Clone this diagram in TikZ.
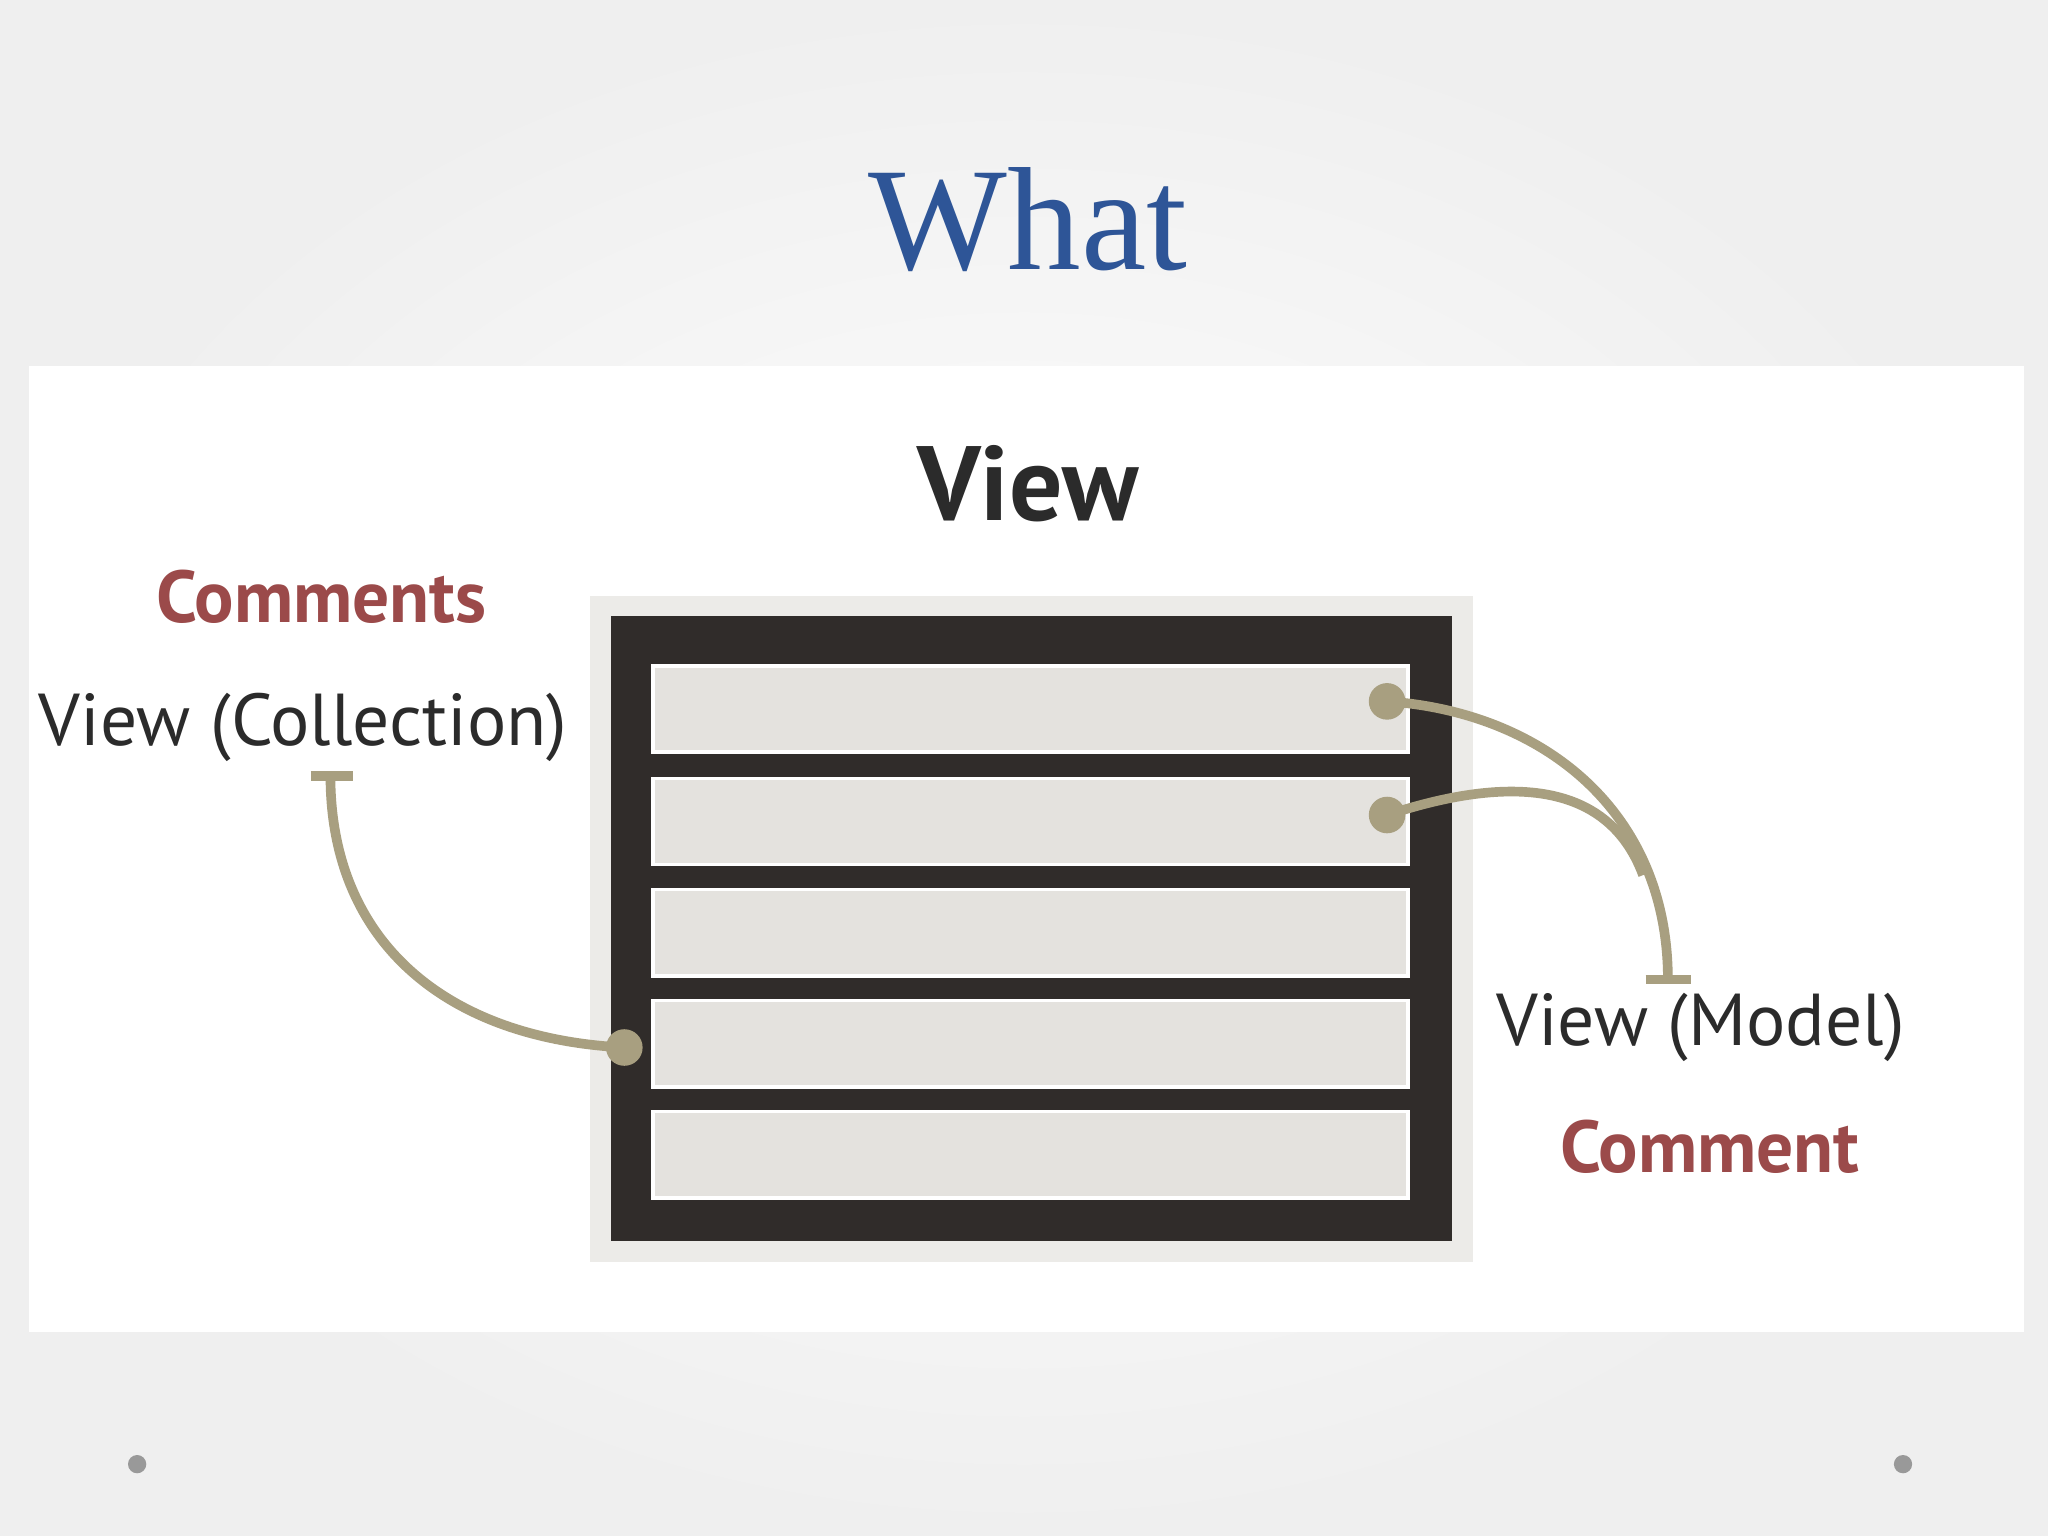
\documentclass[tikz,border=0pt]{standalone}
\usepackage{fontspec}
\setmainfont{Liberation Serif}
\newfontfamily\myss{PT Sans}
\begin{document}
\begin{tikzpicture}[x=0.01cm,y=-0.01cm,
  conn/.style={draw=tanc,line width=2.1pt},
  dot/.style={circle,fill=tanc,inner sep=0pt,minimum size=0.28cm},
  row/.style={draw=white,line width=0.8pt,fill=rowc},
  lbl/.style={font=\myss\fontsize{16}{19}\selectfont,text=darkt},
  red/.style={font=\myss\bfseries\fontsize{16}{19}\selectfont,text=redt}]
\definecolor{tanc}{HTML}{A89F80}
\definecolor{rowc}{HTML}{E4E2DE}
\definecolor{darkt}{HTML}{2B2B2B}
\definecolor{redt}{HTML}{9B4A4A}
\definecolor{boxc}{HTML}{302C2A}
\definecolor{bg}{HTML}{EFEFEF}
\useasboundingbox (0,0) rectangle (1568,1176);
\shade[inner color=white,outer color=bg] (0,0) rectangle (1568,1176);
\fill[white] (22,280) rectangle (1550,1020);
\node[font=\fontsize{32}{36}\selectfont,text={rgb,255:red,46;green,85;blue,151}] (title) at (787,168) {What};
\node[font=\myss\bfseries\fontsize{23}{28}\selectfont,text=darkt] (view) at (787,370) {View};
\fill[rowc!70] (452,456) rectangle (1128,966);
\fill[boxc] (468,472) rectangle (1112,950);
\foreach \y/\n in {510/r1,596/r2,681/r3,766/r4,851/r5}
  \draw[row] (500,\y) rectangle (1078,\y+66);
\node[red] (comments) at (246,457) {Comments};
\node[lbl] (vcoll) at (232,557) {View (Collection)};
\node[lbl] (vmodel) at (1302,787) {View (Model)};
\node[red] (comment) at (1309,878) {Comment};
\coordinate (tl) at (253,594);
\coordinate (tr) at (1277,750);
\draw[conn] (238,594) -- (270,594);
\draw[conn] (1260,750) -- (1295,750);
\node[dot] (d1) at (1062,537) {};
\node[dot] (d2) at (1062,624) {};
\node[dot] (d3) at (478,802) {};
\draw[conn] (d1.center) .. controls (1180,545) and (1277,620) .. (tr);
\draw[conn] (d2.center) .. controls (1150,595) and (1230,595) .. (1258,670);
\draw[conn] (tl) .. controls (253,720) and (340,795) .. (d3.center);
\fill[gray!80] (105,1121) circle (7);
\fill[gray!80] (1457,1121) circle (7);
\end{tikzpicture}
\end{document}
